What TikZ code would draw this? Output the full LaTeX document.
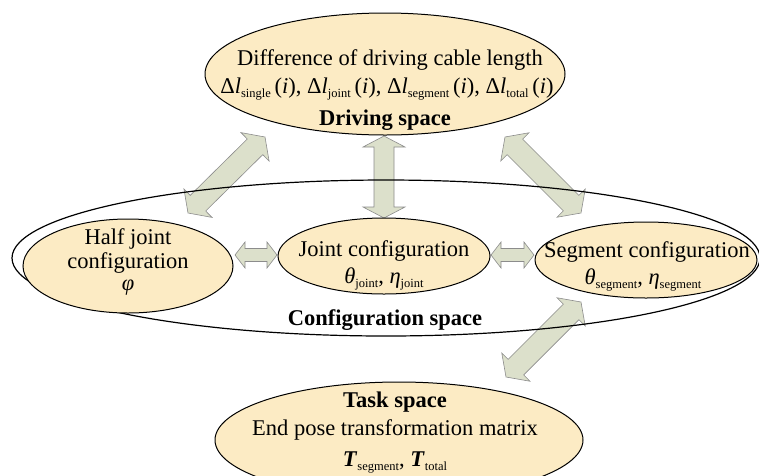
\documentclass[tikz,border=0pt]{standalone}
\usepackage{fontspec}
\setmainfont{Liberation Serif}
\usetikzlibrary{calc,shapes.geometric}
\definecolor{ellfill}{HTML}{FCEBC4}
\definecolor{arrfill}{HTML}{DCE0CB}
\definecolor{arrline}{HTML}{8C8C8C}
\newcommand{\sbs}[1]{\raisebox{-4pt}{\fontsize{12.5}{13}\selectfont #1}}
% #1 start tip, #2 end tip, #3 shaft half width, #4 head half width, #5 head length
\newcommand{\blkarrow}[5]{%
  \path[blk] (#1) -- ($(#1)!#5!(#2)!#4!90:(#2)$) -- ($(#1)!#5!(#2)!#3!90:(#2)$)
    -- ($(#2)!#5!(#1)!#3!-90:(#1)$) -- ($(#2)!#5!(#1)!#4!-90:(#1)$) -- (#2)
    -- ($(#2)!#5!(#1)!#4!90:(#1)$) -- ($(#2)!#5!(#1)!#3!90:(#1)$)
    -- ($(#1)!#5!(#2)!#3!-90:(#2)$) -- ($(#1)!#5!(#2)!#4!-90:(#2)$) -- cycle;}
\begin{document}
\begin{tikzpicture}[x=1pt,y=-1pt,
  ell/.style={ellipse, draw=black, line width=1pt, fill=ellfill, inner sep=0pt},
  txt/.style={font=\fontsize{22.5}{26}\selectfont, anchor=base, inner sep=0pt},
  btxt/.style={txt, font=\fontsize{22.5}{26}\selectfont\bfseries},
  blk/.style={fill=arrfill, draw=arrline, line width=0.6pt, line join=miter}]
\clip (0,0) rectangle (759,475);
\fill[white] (0,0) rectangle (759,475);

% block arrow end points
\coordinate (a1s) at (265,137); \coordinate (a1e) at (188,213);
\coordinate (a2s) at (384,136); \coordinate (a2e) at (384,218);
\coordinate (a3s) at (505,137); \coordinate (a3e) at (581,213);
\coordinate (a4s) at (235,255); \coordinate (a4e) at (277,255);
\coordinate (a5s) at (491,255); \coordinate (a5e) at (534,255);
\coordinate (a6s) at (581,302); \coordinate (a6e) at (506,377);

\blkarrow{a1s}{a1e}{11pt}{20pt}{14pt}
\blkarrow{a2s}{a2e}{10pt}{21pt}{11pt}
\blkarrow{a3s}{a3e}{11pt}{20pt}{14pt}
\blkarrow{a4s}{a4e}{6.5pt}{13pt}{10pt}
\blkarrow{a5s}{a5e}{6.5pt}{13pt}{10pt}
\blkarrow{a6s}{a6e}{11pt}{20pt}{14pt}

% configuration space
\node[ellipse, draw=black, line width=1.2pt, minimum width=748pt, minimum height=156pt, inner sep=0pt] (conf) at (386,258) {};

% ellipses
\node[ell, minimum width=360pt, minimum height=122pt] (drive) at (385,74) {};
\node[ell, minimum width=210pt, minimum height=94pt] (half) at (128,266) {};
\node[ell, minimum width=212pt, minimum height=76pt] (joint) at (384,256) {};
\node[ell, minimum width=222pt, minimum height=76pt] (seg) at (646,260) {};
\node[ell, minimum width=368pt, minimum height=116pt] (task) at (399,440) {};

% texts
\node[txt] (d1) at (390,65) {Difference of driving cable length};
\node[txt] (d2) at (387,93) {Δ\textit{l}\sbs{single}\,(\textit{i}), Δ\textit{l}\sbs{joint}\,(\textit{i}), Δ\textit{l}\sbs{segment}\,(\textit{i}), Δ\textit{l}\sbs{total}\,(\textit{i})};
\node[btxt] (d3) at (385,125) {Driving space};

\node[txt] (h1) at (128,244) {Half joint};
\node[txt] (h2) at (128,268) {configuration};
\node[txt] (h3) at (128,290) {\textit{φ}};

\node[txt] (j1) at (384,256) {Joint configuration};
\node[txt] (j2) at (384,283) {\textit{θ}\sbs{joint}, \textit{η}\sbs{joint}};

\node[txt] (s1) at (647,257) {Segment configuration};
\node[txt] (s2) at (643,284) {\textit{θ}\sbs{segment}, \textit{η}\sbs{segment}};

\node[btxt] (c1) at (385,325) {Configuration space};

\node[btxt] (k1) at (395,407) {Task space};
\node[txt] (k2) at (395,435) {End pose transformation matrix};
\node[txt] (k3) at (395,466) {\textbf{\textit{T}}\sbs{segment}, \textbf{\textit{T}}\sbs{total}};
\end{tikzpicture}
\end{document}
